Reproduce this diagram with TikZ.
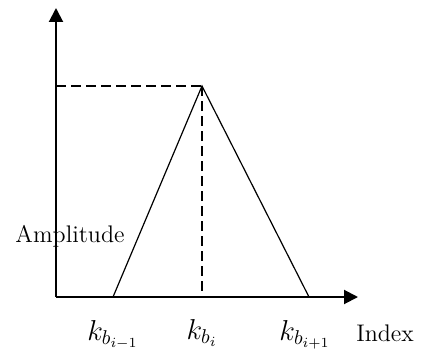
\documentclass[tikz,border=0pt]{standalone}
\usepackage{amsmath,amssymb}
\usepackage{tikz}
\usetikzlibrary{arrows.meta,positioning}

\begin{document}
\begin{tikzpicture}[x=0.5pt,y=0.5pt,font=\large,>={Triangle[length=7pt,width=7pt]}]
    \tikzset{axis/.style={black,line width=1pt},
             tri/.style={black,line width=0.6pt},
             guide/.style={black,line width=0.75pt,dash pattern=on 5pt off 2.5pt},
             klabel/.style={font=\Large}}
    \useasboundingbox (0,0) rectangle (422,354);
    \coordinate (o) at (56,57);
    \coordinate (ytop) at (56,346);
    \coordinate (xend) at (358,57);
    \coordinate (peak) at (202,268);
    \coordinate (lo) at (113,57);
    \coordinate (hi) at (309,57);
    \coordinate (mid) at (202,57);
    \coordinate (ylev) at (56,268);
    \draw[->,axis] (o)--(ytop);
    \draw[->,axis] (o)--(xend);
    \draw[tri] (lo)--(peak)--(hi);
    \draw[guide] (ylev)--(peak);
    \draw[guide] (peak)--(mid);
    \node (amp) at (70,118) {Amplitude};
    \node[klabel] (klo) at (113,19) {$k_{b_{i-1}}$};
    \node[klabel] (kmid) at (202,21) {$k_{b_i}$};
    \node[klabel] (khi) at (305,19) {$k_{b_{i+1}}$};
    \node (idx) at (385,21) {Index};
  \end{tikzpicture}
\end{document}
